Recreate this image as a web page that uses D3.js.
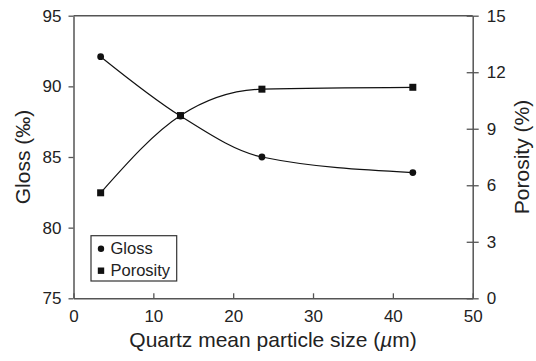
<!DOCTYPE html>
<html>
<head>
<meta charset="utf-8">
<script src="https://cdn.jsdelivr.net/npm/d3@7"></script>
<style>
  html, body { margin: 0; padding: 0; background: #fff; }
  svg { display: block; font-family: "Liberation Sans", Arial, Helvetica, sans-serif; }
</style>
</head>
<body>
<svg id="chart" width="536" height="361"></svg>
<script>
// Quartz mean particle size (µm) for each sample
const particleSize = [3.4, 13.4, 23.6, 42.5];
// Gloss (‰) measured for each sample
const glossValues = [92.1, 87.9, 85.0, 83.9];
// Porosity (%) measured for each sample
const porosityValues = [5.6, 9.7, 11.1, 11.2];

const xTicks = [0, 10, 20, 30, 40, 50];
const glossTicks = [75, 80, 85, 90, 95];
const porosityTicks = [0, 3, 6, 9, 12, 15];

const plot = { left: 73.5, right: 472.7, top: 15.7, bottom: 298.3 };

const svg = d3.select("#chart");
const axisColor = "#555";
const inkColor = "#111";
const textColor = "#222";

const x = d3.scaleLinear().domain([0, 50]).range([plot.left, plot.right]);
const yGloss = d3.scaleLinear().domain([75, 95]).range([plot.bottom, plot.top]);
const yPor = d3.scaleLinear().domain([0, 15]).range([plot.bottom, plot.top]);

// Top frame line
svg.append("line")
  .attr("x1", plot.left).attr("x2", plot.right)
  .attr("y1", plot.top).attr("y2", plot.top)
  .attr("stroke", axisColor).attr("stroke-width", 1.5);

// Bottom axis: ticks point into the plot
const xAxis = svg.append("g")
  .attr("transform", `translate(0,${plot.bottom})`)
  .call(d3.axisBottom(x).tickValues(xTicks).tickSizeInner(-5).tickSizeOuter(0).tickPadding(12));

// Left axis: ticks point outward
const yAxisL = svg.append("g")
  .attr("transform", `translate(${plot.left},0)`)
  .call(d3.axisLeft(yGloss).tickValues(glossTicks).tickSize(5).tickSizeOuter(0).tickPadding(7));

// Right axis: ticks cross the axis line
const yAxisR = svg.append("g")
  .attr("transform", `translate(${plot.right},0)`)
  .call(d3.axisRight(yPor).tickValues(porosityTicks).tickSize(6).tickSizeOuter(0).tickPadding(8));
yAxisR.selectAll(".tick line").attr("x1", -6);

[xAxis, yAxisL, yAxisR].forEach(g => {
  g.select(".domain").attr("stroke", axisColor).attr("stroke-width", 1.5);
  g.selectAll(".tick line").attr("stroke", axisColor).attr("stroke-width", 1.3);
  g.selectAll(".tick text")
    .attr("fill", textColor)
    .style("font-size", "17px")
    .style("font-family", "'Liberation Sans', Arial, sans-serif");
});

// Axis titles
const xTitle = svg.append("text")
  .attr("x", (plot.left + plot.right) / 2)
  .attr("y", 347)
  .attr("text-anchor", "middle")
  .attr("fill", textColor)
  .style("font-size", "21px");
xTitle.append("tspan").text("Quartz mean particle size (");
xTitle.append("tspan").style("font-style", "italic").text("µ");
xTitle.append("tspan").text("m)");

svg.append("text")
  .attr("transform", `translate(30,${(plot.top + plot.bottom) / 2}) rotate(-90)`)
  .attr("text-anchor", "middle")
  .attr("fill", textColor)
  .style("font-size", "21px")
  .text("Gloss (‰)");

svg.append("text")
  .attr("transform", `translate(529,${(plot.top + plot.bottom) / 2}) rotate(-90)`)
  .attr("text-anchor", "middle")
  .attr("fill", textColor)
  .style("font-size", "21px")
  .text("Porosity (%)");

// Smoothed series lines
const glossPts = particleSize.map((d, i) => [x(d), yGloss(glossValues[i])]);
const porPts = particleSize.map((d, i) => [x(d), yPor(porosityValues[i])]);
const smooth = d3.line().curve(d3.curveMonotoneX);

svg.append("path").attr("d", smooth(glossPts))
  .attr("fill", "none").attr("stroke", inkColor).attr("stroke-width", 1.2);
svg.append("path").attr("d", smooth(porPts))
  .attr("fill", "none").attr("stroke", inkColor).attr("stroke-width", 1.2);

// Markers
svg.selectAll("circle.gloss").data(glossPts).join("circle")
  .attr("class", "gloss")
  .attr("cx", d => d[0]).attr("cy", d => d[1]).attr("r", 3.4)
  .attr("fill", inkColor);

const sq = 7;
svg.selectAll("rect.por").data(porPts).join("rect")
  .attr("class", "por")
  .attr("x", d => d[0] - sq / 2).attr("y", d => d[1] - sq / 2)
  .attr("width", sq).attr("height", sq)
  .attr("fill", inkColor);

// Legend
const legend = svg.append("g");
legend.append("rect")
  .attr("x", 91).attr("y", 235.7).attr("width", 85.7).attr("height", 45.3)
  .attr("fill", "#fff").attr("stroke", "#333").attr("stroke-width", 1.2);
legend.append("circle").attr("cx", 101).attr("cy", 248.7).attr("r", 3.2).attr("fill", inkColor);
legend.append("rect").attr("x", 101 - 3.2).attr("y", 270.7 - 3.2).attr("width", 6.4).attr("height", 6.4).attr("fill", inkColor);
legend.append("text").attr("x", 110.5).attr("y", 248.7).attr("dy", "0.35em")
  .attr("fill", textColor).style("font-size", "16.5px").text("Gloss");
legend.append("text").attr("x", 110.5).attr("y", 270.7).attr("dy", "0.35em")
  .attr("fill", textColor).style("font-size", "16.5px").text("Porosity");
</script>
</body>
</html>
